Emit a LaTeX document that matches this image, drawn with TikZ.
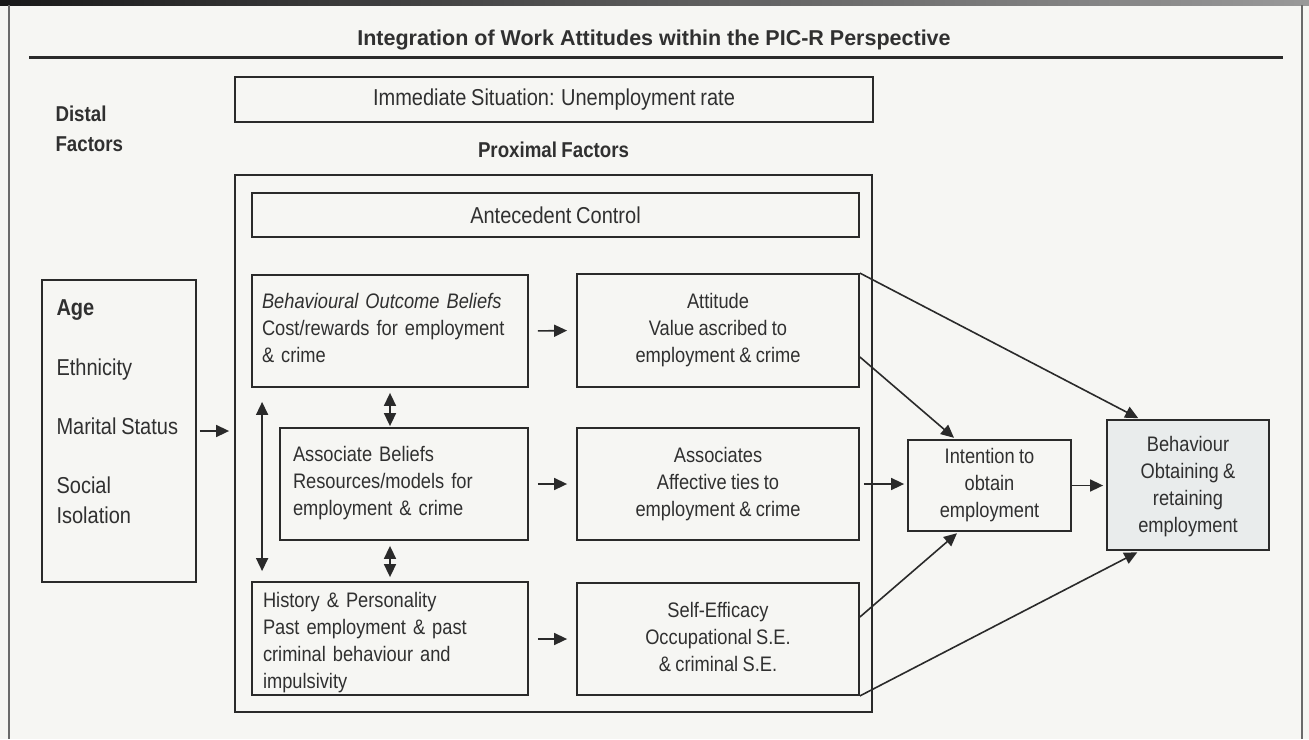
\documentclass[tikz,border=0pt]{standalone}
\usepackage{fontspec}
\setmainfont{Liberation Sans}[FakeStretch=0.87,WordSpace=0.85]
\newfontfamily\titlefont{Liberation Sans}
\usetikzlibrary{arrows.meta}
\definecolor{ink}{RGB}{42,42,42}
\definecolor{txt}{RGB}{48,48,48}
\definecolor{paper}{RGB}{246,246,243}
\definecolor{behfill}{RGB}{233,236,236}

\begin{document}
\begin{tikzpicture}[x=1pt,y=-1pt,
    box/.style={draw=ink,line width=1.8pt,inner sep=0pt,text=txt,font=\fontsize{21}{27}\selectfont},
    threelines/.style={text height=64pt,text depth=0pt},
    fourlines/.style={text height=95pt,text depth=0pt},
    leftthree/.style={text height=18pt,text depth=64pt},
    leftfour/.style={text height=18pt,text depth=81pt},
    bigtext/.style={text=txt,font=\fontsize{23}{30}\selectfont},
    head/.style={text=txt,font=\fontsize{21.5}{30}\selectfont\bfseries},
    arr/.style={draw=ink,line width=1.6pt,-{Triangle[length=13pt,width=12pt]}},
    twoway/.style={draw=ink,line width=1.6pt,{Triangle[length=13pt,width=12pt]}-{Triangle[length=13pt,width=12pt]}}]
    \useasboundingbox (0,0) rectangle (1309,739);
    \fill[paper] (0,0) rectangle (1309,739);
    \shade[left color=black!90,right color=black!40] (0,0) rectangle (1309,5);
    \draw[ink!70,line width=1.4pt] (9,5) -- (9,739);
    \draw[ink!70,line width=1.4pt] (1302,5) -- (1302,739);
    
    % title
    \node[anchor=base,text=txt,font=\titlefont\fontsize{21.5}{25}\selectfont\bfseries] (title) at (654,45) {Integration of Work Attitudes within the PIC-R Perspective};
    \draw[ink,line width=3pt] (29,57) -- (1283,57);
    
    % outer frames
    \node[box,bigtext,minimum width=638pt,minimum height=45pt] (situation) at (554,99.5) {Immediate Situation: Unemployment rate};
    \node[head,anchor=base west,align=left] (distal) at (52,151) {Distal\\Factors};
    \node[head,anchor=base] (proxlabel) at (553.5,157) {Proximal Factors};
    \node[box,minimum width=637pt,minimum height=537pt] (prox) at (553.5,443.5) {};
    \node[box,bigtext,minimum width=607pt,minimum height=44pt] (antecedent) at (555.5,215) {Antecedent Control};
    
    % distal box
    \node[box,minimum width=154pt,minimum height=302pt] (age) at (119,431) {};
    \node[bigtext,anchor=base west,font=\fontsize{23}{30}\selectfont\bfseries] (agetxt) at (53,315) {Age};
    \node[bigtext,anchor=base west] (ethtxt) at (53,375) {Ethnicity};
    \node[bigtext,anchor=base west] (martxt) at (53,434) {Marital Status};
    \node[bigtext,anchor=base west,align=left] (soctxt) at (53,523) {Social\\Isolation};
    
    % beliefs
    \node[box,leftthree,minimum width=276pt,minimum height=112pt,text width=256pt,align=left] (bob) at (390,331) {{\itshape Behavioural Outcome Beliefs}\\Cost/rewards for employment\\\& crime};
    \node[box,leftthree,minimum width=248pt,minimum height=112pt,text width=222pt,align=left] (ab) at (404,484) {Associate Beliefs\\Resources/models for\\employment \& crime};
    \node[box,leftfour,minimum width=276pt,minimum height=113pt,text width=254pt,align=left] (hist) at (390,638.5) {History \& Personality\\Past employment \& past\\criminal behaviour and\\impulsivity};
    
    % attitudes
    \node[box,threelines,minimum width=282pt,minimum height=113pt,align=center] (att) at (718,330.5) {Attitude\\Value ascribed to\\employment \& crime};
    \node[box,threelines,minimum width=282pt,minimum height=112pt,align=center] (assoc) at (718,484) {Associates\\Affective ties to\\employment \& crime};
    \node[box,threelines,minimum width=282pt,minimum height=112pt,align=center] (se) at (718,639) {Self-Efficacy\\Occupational S.E.\\\& criminal S.E.};
    
    % outcome
    \node[box,threelines,minimum width=163pt,minimum height=91pt,align=center] (intent) at (989.5,485.5) {Intention to\\obtain\\employment};
    \node[box,fourlines,fill=behfill,minimum width=162pt,minimum height=130pt,align=center] (beh) at (1188,485) {Behaviour\\Obtaining \&\\retaining\\employment};
    
    % arrows
    \draw[arr,shorten <=3pt,shorten >=5pt] (age.east) -- (age.east -| prox.west);
    \draw[arr,shorten <=9pt,shorten >=9pt] (bob.east) -- (att.west);
    \draw[arr,shorten <=9pt,shorten >=9pt] (ab.east) -- (assoc.west);
    \draw[arr,shorten <=9pt,shorten >=9pt] (hist.east |- se.west) -- (se.west);
    \draw[twoway,shorten <=5pt,shorten >=1pt] (bob.south) -- (bob.south |- ab.north);
    \draw[twoway,shorten <=5pt,shorten >=4pt] (ab.south -| bob.south) -- (bob.south |- hist.north);
    \draw[twoway,shorten <=14pt,shorten >=10pt] ([xshift=11pt]bob.south west) -- ([xshift=11pt]hist.north west);
    \draw[arr,shorten <=4pt,shorten >=3pt] (assoc.east) -- (assoc.east -| intent.west);
    \draw[arr,shorten >=3pt] (intent.east) -- (intent.east -| beh.west);
    \draw[arr,shorten >=2pt] (att.north east) -- ([xshift=-48pt]beh.north);
    \draw[arr,shorten >=2pt] ([yshift=-26.5pt]att.east) -- ([xshift=-34pt]intent.north);
    \draw[arr,shorten >=2pt] ([yshift=22pt]se.east) -- ([xshift=-31pt]intent.south);
    \draw[arr,shorten >=3pt] (se.south east) -- ([xshift=-48pt]beh.south);
\end{tikzpicture}
\end{document}
